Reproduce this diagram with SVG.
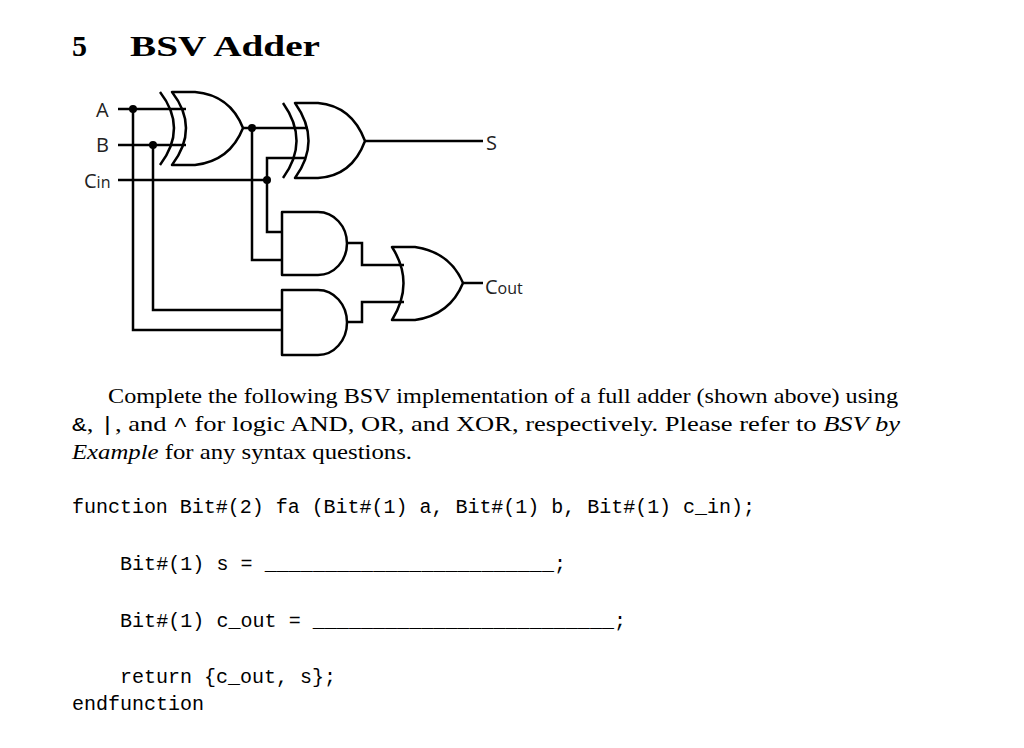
<svg xmlns="http://www.w3.org/2000/svg" width="1024" height="748" viewBox="0 0 1024 748">
<style>
.g{fill:none;stroke:#000;stroke-width:2.5;stroke-linejoin:round}
.w{fill:none;stroke:#000;stroke-width:2.5}
.lb{font-family:"Open Sans","DejaVu Sans",sans-serif;font-size:20px;fill:#222}
.sm{font-size:16px}
.t{font-family:"Liberation Serif",serif;font-size:21.5px;fill:#000}
.m{font-family:"Liberation Mono","DejaVu Sans Mono",monospace;font-size:20px;fill:#000}
</style>
<rect width="1024" height="748" fill="#fff"/>
<text x="72" y="56" font-family="Liberation Serif,serif" font-weight="bold" font-size="30">5</text>
<text x="130" y="56" font-family="Liberation Serif,serif" font-weight="bold" font-size="30" textLength="190" lengthAdjust="spacingAndGlyphs">BSV Adder</text>
<g id="labels">
<text class="lb" x="96" y="117">A</text>
<text class="lb" x="96" y="152">B</text>
<text class="lb" x="84" y="188">C<tspan class="sm">in</tspan></text>
<text class="lb" x="486" y="150">S</text>
<text class="lb" x="485" y="294">C<tspan class="sm">out</tspan></text>
</g>
<g id="xor1"><path class="g" d="M172,92 L195,92 Q230,95 243,128 Q230,161 195,165 L172,165 Q200,128 172,92 Z"/><path class="g" d="M160,92 Q188,128 160,165"/></g>
<g id="xor2"><path class="g" d="M295,103 L318,103 Q352,106 365,141 Q352,176 318,178 L295,178 Q322,141 295,103 Z"/><path class="g" d="M283,103 Q310,141 283,178"/></g>
<g id="and1"><path class="g" d="M282,212 L318,212 A29,31.5 0 0 1 318,275 L282,275 Z"/></g>
<g id="and2"><path class="g" d="M282,290 L318,290 A29,32.5 0 0 1 318,355 L282,355 Z"/></g>
<g id="or1"><path class="g" d="M392,247 L415,247 Q450,252 463,283 Q450,315 415,320 L392,320 Q415,283 392,247 Z"/></g>
<g id="connectors">
<path class="w" d="M118,109 H186 M118,145 H186 M118,180 H267"/>
<path class="w" d="M133,109 V330 H282 M153,145 V310 H282"/>
<path class="w" d="M243,128 H308 M252,128 V260 H282"/>
<path class="w" d="M267,180 V158 H305 M267,180 V232 H282"/>
<path class="w" d="M365,141 H483"/>
<path class="w" d="M347,243 H362 V265 H404 M347,322 H362 V302 H404"/>
<path class="w" d="M463,283 H483"/>
<circle cx="133" cy="109" r="4"/><circle cx="153" cy="145" r="4"/><circle cx="252" cy="128" r="4"/><circle cx="267" cy="180" r="4"/>
</g>
<text class="t" x="108" y="403" textLength="790" lengthAdjust="spacingAndGlyphs">Complete the following BSV implementation of a full adder (shown above) using</text>
<text class="t" x="72" y="431" textLength="828" lengthAdjust="spacingAndGlyphs"><tspan class="m" font-size="17">&amp;</tspan>, <tspan class="m" font-size="17">|</tspan>, and <tspan class="m" font-size="17">^</tspan> for logic AND, OR, and XOR, respectively.  Please refer to <tspan font-style="italic">BSV by</tspan></text>
<text class="t" x="72" y="459" textLength="340" lengthAdjust="spacingAndGlyphs"><tspan font-style="italic">Example</tspan> for any syntax questions.</text>
<text class="m" x="72" y="513" textLength="683">function Bit#(2) fa (Bit#(1) a, Bit#(1) b, Bit#(1) c_in);</text>
<text class="m" x="120" y="570" textLength="446">Bit#(1) s = ________________________;</text>
<text class="m" x="120" y="627" textLength="506">Bit#(1) c_out = _________________________;</text>
<text class="m" x="120" y="683" textLength="216">return {c_out, s};</text>
<text class="m" x="72" y="710" textLength="132">endfunction</text>
</svg>
